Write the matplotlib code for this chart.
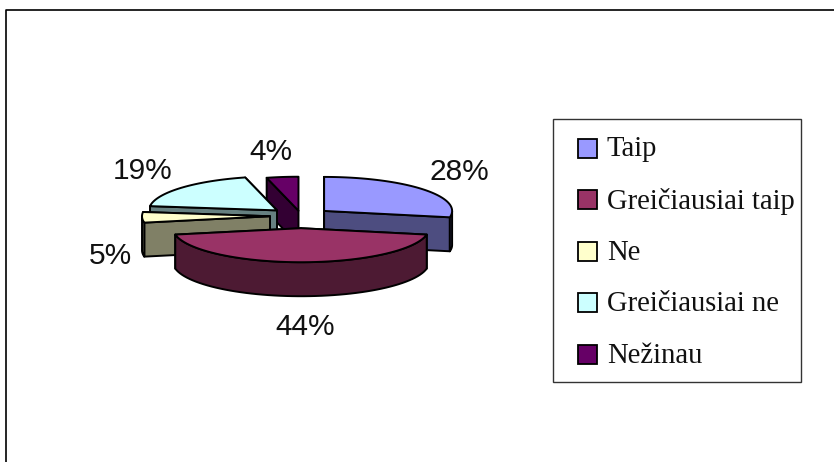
import numpy as np
import matplotlib
matplotlib.use('Agg')
import matplotlib.pyplot as plt
from matplotlib.patches import Polygon, Rectangle

# chart data
categories = ['Taip', 'Greičiausiai taip', 'Ne', 'Greičiausiai ne', 'Nežinau']
values = [28, 44, 5, 19, 4]
explode = [30, 46, 31, 32, 20]

top_colors = ['#9999FF', '#993366', '#FFFFCC', '#CCFFFF', '#660066']
side_colors = ['#4D4D80', '#4D1A33', '#808066', '#668080', '#330033']

# pie layout in pixels
cx, cy = 301, 216
rx, ry = 128, 34
depth = 34
draw_order = [4, 3, 2, 0, 1]
label_pos = [(459, 172), (305, 327), (110, 256), (143, 171), (271, 152)]


def project(angle, x0, y0):
    # angle is clockwise from 12 o'clock, on a squashed circle
    a = np.radians(angle)
    return x0 + rx * np.sin(a), y0 - ry * np.cos(a)


def wedge(ax, start, end, dist, top, side):
    mid = np.radians((start + end) / 2)
    x0 = cx + dist * np.sin(mid)
    y0 = cy - dist * np.cos(mid) * ry / rx
    angles = np.linspace(start, end, 60)
    xs, ys = project(angles, x0, y0)
    rim = np.column_stack([xs, ys])
    drop = np.array([0, depth])
    apex = np.array([x0, y0])

    # cut faces and the part of the rim that faces the viewer
    faces = [np.array([apex, rim[0], rim[0] + drop, apex + drop]),
             np.array([apex, rim[-1], rim[-1] + drop, apex + drop])]
    front = np.abs(angles - 180) < 90
    if front.any():
        arc = rim[front]
        faces.append(np.vstack([arc, (arc + drop)[::-1]]))
    faces.sort(key=lambda f: f[:, 1].mean())
    for f in faces:
        ax.add_patch(Polygon(f, closed=True, fc=side, ec='black', lw=1.4, joinstyle='round'))
    ax.add_patch(Polygon(np.vstack([apex, rim]), closed=True, fc=top, ec='black', lw=1.4, joinstyle='round'))


def main():
    fig = plt.figure(figsize=(8.34, 4.62), dpi=100)
    ax = fig.add_axes([0, 0, 1, 1])
    ax.set_xlim(0, 834)
    ax.set_ylim(462, 0)
    ax.axis('off')

    # chart frame, bottom and right are cut off in the picture
    ax.plot([6.5, 6.5, 834], [462, 9.5, 9.5], color='black', lw=1.2)

    edges = np.concatenate([[0], np.cumsum(values)]) * 360 / sum(values)
    for i in draw_order:
        wedge(ax, edges[i], edges[i + 1], explode[i], top_colors[i], side_colors[i])

    for val, (x, y) in zip(values, label_pos):
        ax.text(x, y, f'{val}%', ha='center', va='center', fontsize=21.5,
                family='Liberation Sans', color='#111111')

    # legend drawn by hand, matplotlib's pads are equal on all sides
    ax.add_patch(Rectangle((553.5, 118.5), 248, 263, fc='white', ec='#333333', lw=1))
    for i, (name, color) in enumerate(zip(categories, top_colors)):
        y = 148 + i * 51.6
        ax.add_patch(Rectangle((578.5, y - 9.5), 19, 19, fc=color, ec='black', lw=1.3))
        ax.text(607, y + 1.5, name, ha='left', va='center', fontsize=20.6,
                family='Liberation Serif', color='#111111')

    fig.savefig('out.png', dpi=100)


if __name__ == '__main__':
    main()
